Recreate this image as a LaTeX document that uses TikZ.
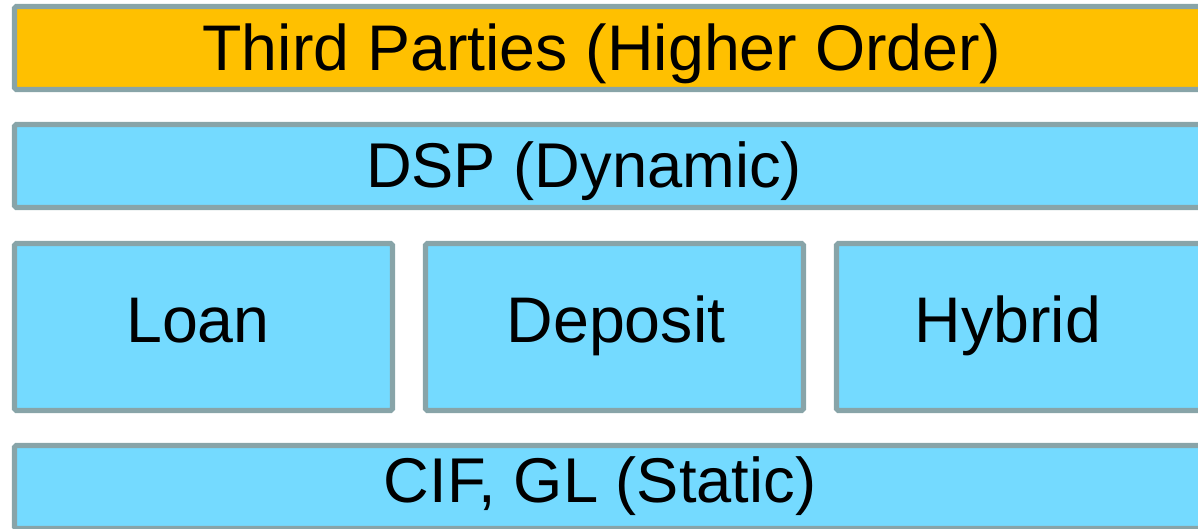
\documentclass[tikz,border=0pt]{standalone}
\usepackage{fontspec}
\setmainfont{Liberation Sans}
\usepackage{xcolor}
\usetikzlibrary{backgrounds,calc,positioning}

\definecolor{layerorange}{HTML}{FFC000}
\definecolor{layerblue}{HTML}{74DAFF}
\definecolor{layeredge}{HTML}{88A4A8}

\tikzset{
	layer/.style = {draw = layeredge, line width = 2.9pt, rounded corners = 1pt},
	lbl/.style   = {anchor = base, inner sep = 0pt, font = \fontsize{36.7}{40}\selectfont},
	lblsmall/.style = {lbl, font = \fontsize{36}{40}\selectfont}
}

\begin{document}
\begin{tikzpicture}[x = 0.02cm, y = -0.02cm]
		\useasboundingbox (0,0) rectangle (1198,528);
		\begin{scope}
			% top layer
			\draw[layer, fill = layerorange] (14.5,6.5) rectangle (1215,89.5);
			\node[lbl] (third) at (602,70) {Third Parties (Higher Order)};

			% dynamic layer
			\draw[layer, fill = layerblue] (14.5,124.5) rectangle (1215,207.5);
			\node[lblsmall] (dsp) at (584,187) {DSP (Dynamic)};

			% products
			\draw[layer, fill = layerblue] (14.5,243.5) rectangle (392.5,410.5);
			\draw[layer, fill = layerblue] (425.5,243.5) rectangle (803.5,410.5);
			\draw[layer, fill = layerblue] (836.5,243.5) rectangle (1215,410.5);
			\node[lbl] (loan)    at (198,342)  {Loan};
			\node[lbl] (deposit) at (616,342)  {Deposit};
			\node[lbl] (hybrid)  at (1008,342) {Hybrid};

			% static layer
			\draw[layer, fill = layerblue] (14.5,445.5) rectangle (1215,528.5);
			\node[lblsmall] (cif) at (600,502) {CIF, GL (Static)};
		\end{scope}
\end{tikzpicture}
\end{document}
